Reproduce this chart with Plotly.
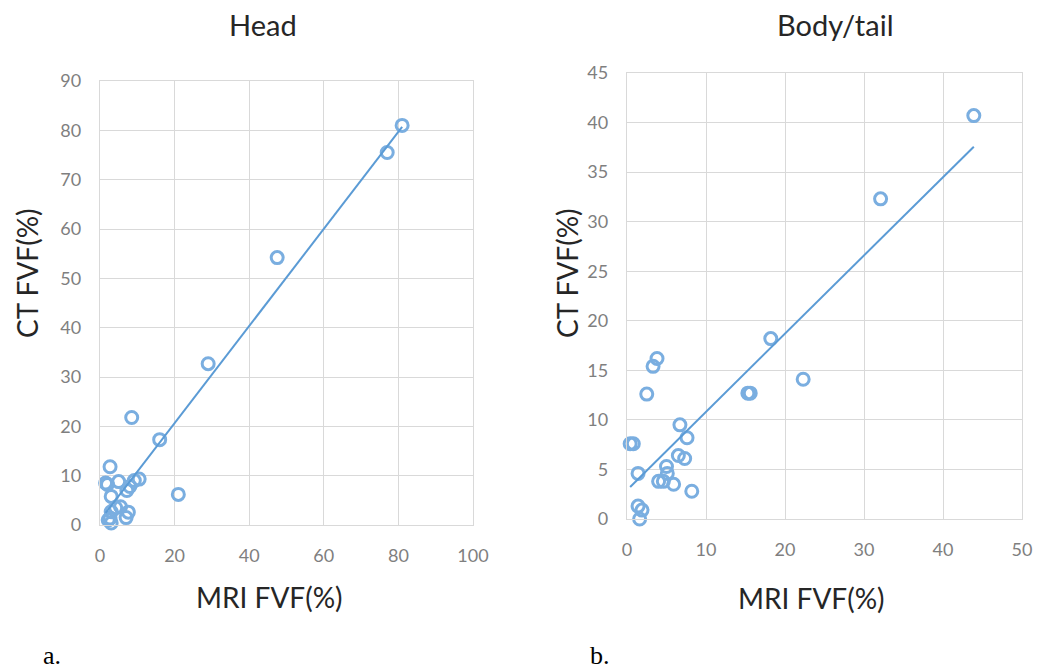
import numpy as np
import plotly.graph_objects as go

# Head panel data (MRI FVF %, CT FVF %)
head_mri = [1.5, 2.0, 2.7, 3.0, 5.0, 5.5, 4.2, 3.0, 2.2, 3.0, 2.7, 7.0, 7.6, 7.2, 8.0, 9.2, 10.5, 16.0, 8.5, 21.0, 29.0, 47.5, 77.0, 81.0]
head_ct = [8.5, 8.2, 11.8, 5.8, 8.8, 3.7, 3.5, 2.7, 1.0, 0.4, 1.4, 1.5, 2.6, 7.0, 7.8, 9.0, 9.3, 17.3, 21.8, 6.2, 32.7, 54.2, 75.5, 81.0]

# Body/tail panel data
body_mri = [3.8, 3.3, 2.5, 6.7, 7.6, 0.4, 0.8, 6.5, 7.3, 1.4, 5.0, 5.1, 4.0, 4.6, 5.9, 8.2, 1.4, 1.9, 1.6, 15.3, 15.6, 18.2, 22.3, 32.1, 43.9]
body_ct = [16.2, 15.4, 12.6, 9.5, 8.2, 7.6, 7.6, 6.4, 6.1, 4.6, 5.3, 4.6, 3.8, 3.8, 3.5, 2.8, 1.3, 0.9, 0.0, 12.7, 12.7, 18.2, 14.1, 32.3, 40.7]

head_xticks = [0, 20, 40, 60, 80, 100]
head_yticks = [0, 10, 20, 30, 40, 50, 60, 70, 80, 90]
body_xticks = [0, 10, 20, 30, 40, 50]
body_yticks = [0, 5, 10, 15, 20, 25, 30, 35, 40, 45]

MARK = "#7aaee0"
LINE = "#5b9bd5"
GRID = "#d9d9d9"
TICK = "#7f7f7f"
FONT = "Lato, 'Noto Sans', sans-serif"

fig = go.Figure()

def add_panel(xs, ys, xa, ya):
    xs = np.array(xs); ys = np.array(ys)
    fig.add_trace(go.Scatter(x=xs, y=ys, mode="markers", xaxis=xa, yaxis=ya,
                             cliponaxis=False, showlegend=False,
                             marker=dict(symbol="circle-open", size=12, color=MARK,
                                         line=dict(width=3, color=MARK))))
    m, b = np.polyfit(xs, ys, 1)
    lx = np.array([xs.min(), xs.max()])
    fig.add_trace(go.Scatter(x=lx, y=m * lx + b, mode="lines", xaxis=xa, yaxis=ya,
                             cliponaxis=False, showlegend=False,
                             line=dict(color=LINE, width=2)))

add_panel(head_mri, head_ct, "x", "y")
add_panel(body_mri, body_ct, "x2", "y2")

W, H = 1037, 670
def px(x): return x / W
def py(y): return (H - y) / H

ax_common = dict(showgrid=True, gridcolor=GRID, gridwidth=1.3, zeroline=False,
                 showline=True, linecolor=GRID, linewidth=1.3, mirror=True,
                 automargin=False, ticks="",
                 tickfont=dict(family=FONT, size=18, color=TICK))
xax = dict(ax_common, ticklabelstandoff=14)
yax = dict(ax_common, ticklabelstandoff=14)

fig.update_layout(
    width=W, height=H, margin=dict(l=0, r=0, t=0, b=0),
    paper_bgcolor="white", plot_bgcolor="white",
    xaxis=dict(domain=[px(100), px(473)], range=[0, 100], tickvals=head_xticks, anchor="y", **xax),
    yaxis=dict(domain=[py(525), py(81)], range=[0, 90], tickvals=head_yticks, anchor="x", **yax),
    xaxis2=dict(domain=[px(627), px(1022)], range=[0, 50], tickvals=body_xticks, anchor="y2", **xax),
    yaxis2=dict(domain=[py(519), py(73)], range=[0, 45], tickvals=body_yticks, anchor="x2", **yax),
)

def ann(text, x, y, size, angle=0, color="#262626", family=FONT):
    fig.add_annotation(text=text, x=px(x), y=py(y), xref="paper", yref="paper",
                       showarrow=False, textangle=angle, xanchor="center", yanchor="middle",
                       font=dict(family=family, size=size, color=color))

ann("Head", 263, 25, 29)
ann("Body/tail", 835, 25, 29)
ann("CT FVF(%)", 27, 273, 28, angle=-90)
ann("CT FVF(%)", 567, 273, 28, angle=-90)
ann("MRI FVF(%)", 269, 597, 28)
ann("MRI FVF(%)", 811, 598, 28)
ann("a.", 52, 655, 26, color="black", family="'Liberation Serif', serif")
ann("b.", 600, 655, 26, color="black", family="'Liberation Serif', serif")

fig.write_html(
    "out.html",
    config={"displayModeBar": False},
    post_script="document.body.style.margin='0';document.body.style.overflow='hidden';",
)
